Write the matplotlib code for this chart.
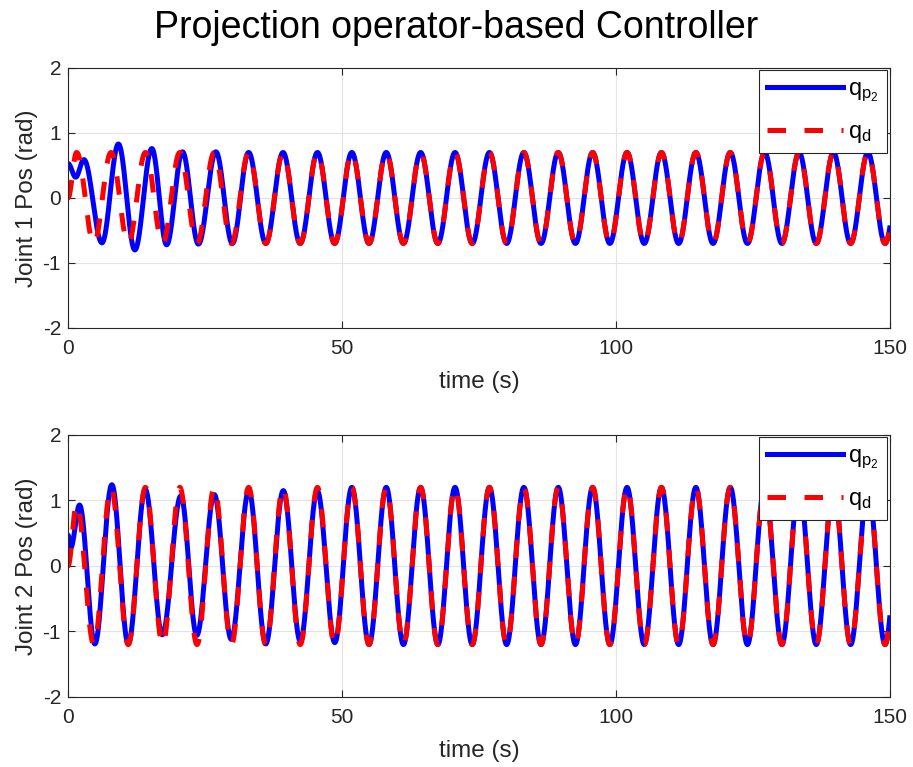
import matplotlib.pyplot as plt
import numpy as np

plt.rcParams['font.family'] = ['Liberation Sans', 'DejaVu Sans']
plt.rcParams['mathtext.fontset'] = 'custom'
plt.rcParams['mathtext.rm'] = 'Liberation Sans'
plt.rcParams['axes.unicode_minus'] = False

# values
t_end = 150
period_d = 6.28          # spacing of q_d peaks (s)
amp_d1 = 0.7             # joint 1 desired amplitude (rad)
amp_d2 = 1.2             # joint 2 desired amplitude (rad)
first_peak_d2 = 0.95     # first desired peak of joint 2 looks lower

# transient extrema of q_p (time s, value rad); afterwards it sits on q_d
qp1_t = [0.0, 1.4, 2.9, 6.2, 9.2, 12.2, 15.3, 18.0, 20.9, 23.8, 27.0, 30.0]
qp1_v = [0.53, 0.32, 0.59, -0.69, 0.83, -0.80, 0.76, -0.72, 0.71, -0.71, 0.71, -0.70]
qp2_t = [0.0, 0.5, 2.1, 4.9, 8.0, 11.0, 14.1, 17.2, 20.6, 23.5, 26.7, 29.8,
         33.0, 36.1, 39.3, 42.4, 45.5, 48.7]
qp2_v = [0.47, 0.28, 0.93, -1.19, 1.24, -1.19, 1.17, -1.05, 1.07, -1.06, 1.09, -1.12,
         1.15, -1.19, 1.15, -1.15, 1.15, -1.17]

t = np.linspace(0, t_end, 6000)


def through_extrema(te, ve, tt):
    # smooth half-cosine segments between consecutive extrema
    te = np.asarray(te); ve = np.asarray(ve)
    i = np.clip(np.searchsorted(te, tt) - 1, 0, len(te) - 2)
    f = (tt - te[i]) / (te[i + 1] - te[i])
    f = np.clip(f, 0, 1)
    return ve[i] + (ve[i + 1] - ve[i]) * (1 - np.cos(np.pi * f)) / 2


# desired trajectory extrema
d_t = np.arange(period_d / 4, t_end + period_d, period_d / 2)
d_sign = np.where(np.arange(len(d_t)) % 2 == 0, 1.0, -1.0)
d_t = np.concatenate([[0.0], d_t])
d1_v = np.concatenate([[0.0], amp_d1 * d_sign])
d2_v = amp_d2 * d_sign
d2_v[0] = first_peak_d2
d2_v = np.concatenate([[0.0], d2_v])
qd1 = through_extrema(d_t, d1_v, t)
qd2 = through_extrema(d_t, d2_v, t)


def follow(te, ve, qd_t, qd_v):
    keep = qd_t > te[-1] + 1.0
    return through_extrema(np.concatenate([te, qd_t[keep]]),
                           np.concatenate([ve, qd_v[keep]]), t)


qp1 = follow(qp1_t, qp1_v, d_t, d1_v)
qp2 = follow(qp2_t, qp2_v, d_t, d2_v)

fig = plt.figure(figsize=(9.13, 7.67), dpi=100)
ax1 = fig.add_axes([0.0745, 0.5724, 0.900, 0.339])
ax2 = fig.add_axes([0.0745, 0.0913, 0.900, 0.3416])

for ax, qp, qd, lab in [(ax1, qp1, qd1, 'Joint 1 Pos (rad)'),
                        (ax2, qp2, qd2, 'Joint 2 Pos (rad)')]:
    ax.plot(t, qp, color='blue', linewidth=3.6, label=r'$\mathregular{q_{p_2}}$')
    ax.plot(t, qd, color='red', linewidth=3.6, linestyle='--', dashes=(3.7, 3.7),
            label=r'$\mathregular{q_d}$')
    ax.set_xlim(0, 150)
    ax.set_ylim(-2, 2)
    ax.set_xticks([0, 50, 100, 150])
    ax.set_yticks([-2, -1, 0, 1, 2])
    ax.grid(True, color='#e3e3e3', linewidth=0.8)
    ax.set_axisbelow(True)
    ax.tick_params(direction='in', top=True, right=True, labelsize=15,
                   colors='#262626', length=5, width=0.8)
    ax.tick_params(axis='x', pad=8)
    ax.tick_params(axis='y', pad=5)
    for s in ax.spines.values():
        s.set_color('#262626')
        s.set_linewidth(0.8)
    ax.set_xlabel('time (s)', fontsize=17.5, color='#262626', labelpad=9)
    ax.set_ylabel(lab, fontsize=17.5, color='#262626', labelpad=3)
    leg = ax.legend(loc='upper right', fontsize=17, handlelength=3.2,
                    fancybox=False, framealpha=1, borderaxespad=0.1,
                    labelspacing=0.7, handletextpad=0.25, borderpad=0.35)
    leg.get_frame().set_edgecolor('#262626')
    leg.get_frame().set_linewidth(0.8)

fig.text(0.5, 0.963, 'Projection operator-based Controller', fontsize=27,
         ha='center', va='center')
fig.savefig('out.png', dpi=100, facecolor='white')
